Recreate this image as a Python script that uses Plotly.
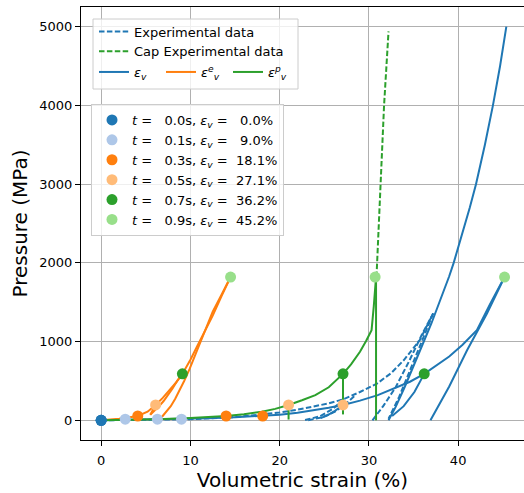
import plotly.graph_objects as go

# ---------------- data (volumetric strain in %, pressure in MPa) ----------------
times = [0.0, 0.1, 0.3, 0.5, 0.7, 0.9]
p_t = [0, 15, 55, 195, 590, 1820]
ev_t = [0.0, 9.0, 18.1, 27.1, 36.2, 45.2]     # total
eve_t = [0.0, 2.7, 4.1, 6.1, 9.1, 14.5]       # elastic
evp_t = [0.0, 6.3, 14.0, 21.0, 27.1, 30.7]    # plastic
marker_colors = ["#1f77b4", "#aec7e8", "#ff7f0e", "#ffbb78", "#2ca02c", "#98df8a"]

# experimental data (dashed blue)
exp_load_x = [0, 5, 10, 15, 20, 22, 23.5, 25.5, 27.2, 29.0, 30.9, 32.5, 33.9, 35.7, 37.2]
exp_load_p = [0, 5, 15, 40, 100, 135, 170, 215, 270, 360, 466, 600, 763, 1018, 1357]
exp_unl1_x = [27.2, 26.0, 24.5, 22.7]
exp_unl1_p = [270, 150, 50, 0]
exp_rel1_x = [23.2, 24.8, 26.2, 27.6, 28.5]
exp_rel1_p = [0, 40, 110, 230, 320]
exp_unl2_x = [37.2, 35.9, 34.6, 33.4, 32.2]
exp_unl2_p = [1357, 1000, 640, 300, 20]
exp_rel2_x = [30.4, 31.6, 33.0, 34.5, 35.9, 37.2]
exp_rel2_p = [0, 180, 420, 750, 1080, 1357]

# cap experimental data (dashed green)
cap_x = [30.85, 31.3, 31.7, 32.2]
cap_p = [1820, 3000, 4000, 4940]

# model total strain (solid blue)
ev_load_x = [0, 3, 6, 9, 12, 15, 18.1, 20, 22, 24, 25.5, 27.1, 29, 31, 33, 34.6, 36.2,
             37.5, 39, 40.5, 42.1, 43.6, 45.2]
ev_load_p = [0, 4, 9, 15, 25, 38, 55, 72, 95, 130, 160, 195, 250, 320, 410, 490, 590,
             690, 810, 960, 1145, 1480, 1820]
ev_unl1_x = [27.1, 26.2, 25.3, 24.6]
ev_unl1_p = [195, 120, 60, 30]
ev_unl2_x = [36.2, 35.1, 33.9, 32.6]
ev_unl2_p = [590, 360, 180, 55]
ev_unl3_x = [45.2, 43.2, 41.0, 39.0, 36.9]
ev_unl3_p = [1820, 1350, 890, 430, 0]
ev_high_x = [32.2, 33.0, 34.0, 35.0, 36.0, 37.0, 38.0, 39.0, 39.5, 40.5, 41.3, 42.0,
             43.0, 43.9, 44.7, 45.4]
ev_high_p = [0, 170, 420, 680, 960, 1230, 1520, 1830, 2000, 2380, 2700, 3000,
             3500, 4000, 4500, 5000]

# model elastic strain (solid orange)
eve_load_x = [0, 1, 2, 3, 4.1, 5.2, 6.1, 6.9, 7.6, 8.4, 9.1, 10.0, 10.8, 11.6, 12.5, 13.5, 14.5]
eve_load_p = [0, 8, 20, 35, 55, 110, 195, 285, 370, 480, 590, 770, 950, 1120, 1330, 1580, 1820]
eve_unl1_x = [6.1, 5.8, 5.5]
eve_unl1_p = [195, 130, 70]
eve_rel1_x = [5.5, 6.0, 6.5, 7.0, 7.5, 8.0, 8.5, 9.1]
eve_rel1_p = [70, 120, 180, 245, 320, 405, 500, 590]
eve_rel2_x = [6.8, 7.3, 7.8, 8.3, 8.8, 9.3, 9.9, 10.5, 11.1, 12.5, 13.5, 14.5]
eve_rel2_p = [42, 105, 180, 275, 380, 500, 650, 820, 1000, 1380, 1600, 1820]

# model plastic strain (solid green)
evp_load_x = [0, 3.0, 6.3, 10.0, 14.0, 16.0, 18.0, 19.5, 21.0, 22.5, 24.0, 25.5, 27.1,
              28.0, 29.0, 29.7, 30.3, 30.55, 30.8]
evp_load_p = [0, 6, 15, 30, 55, 78, 110, 145, 195, 255, 320, 420, 590,
              710, 870, 1010, 1145, 1450, 1820]
evp_unl1_x = [21.0, 21.0]
evp_unl1_p = [195, 10]
evp_unl2_x = [27.1, 27.1]
evp_unl2_p = [590, 75]
evp_unl3_x = [30.8, 30.8]
evp_unl3_p = [1820, 0]


def join(*segs):
    xs, ys = [], []
    for sx, sy in segs:
        xs += list(sx) + [None]
        ys += list(sy) + [None]
    return xs, ys


FONT = "DejaVu Sans"
BLUE, ORANGE, GREEN = "#1f77b4", "#ff7f0e", "#2ca02c"
DASH = "5.5px,2.4px"

fig = go.Figure()

x, y = join((exp_load_x, exp_load_p), (exp_unl1_x, exp_unl1_p), (exp_rel1_x, exp_rel1_p),
            (exp_unl2_x, exp_unl2_p), (exp_rel2_x, exp_rel2_p))
fig.add_trace(go.Scatter(x=x, y=y, mode="lines", name="Experimental data",
                         line=dict(color=BLUE, width=2, dash=DASH), legend="legend"))
x, y = join((cap_x, cap_p))
fig.add_trace(go.Scatter(x=x, y=y, mode="lines", name="Cap Experimental data",
                         line=dict(color=GREEN, width=2, dash=DASH), legend="legend"))

x, y = join((ev_load_x, ev_load_p), (ev_unl1_x, ev_unl1_p), (ev_unl2_x, ev_unl2_p),
            (ev_unl3_x, ev_unl3_p), (ev_high_x, ev_high_p))
fig.add_trace(go.Scatter(x=x, y=y, mode="lines", name="<i>ε<sub>v</sub></i>",
                         line=dict(color=BLUE, width=2), legend="legend3"))
x, y = join((eve_load_x, eve_load_p), (eve_unl1_x, eve_unl1_p), (eve_rel1_x, eve_rel1_p),
            (eve_rel2_x, eve_rel2_p))
fig.add_trace(go.Scatter(x=x, y=y, mode="lines", name="<i>ε<sup>e</sup><sub>v</sub></i>",
                         line=dict(color=ORANGE, width=2), legend="legend3"))
x, y = join((evp_load_x, evp_load_p), (evp_unl1_x, evp_unl1_p), (evp_unl2_x, evp_unl2_p),
            (evp_unl3_x, evp_unl3_p))
fig.add_trace(go.Scatter(x=x, y=y, mode="lines", name="<i>ε<sup>p</sup><sub>v</sub></i>",
                         line=dict(color=GREEN, width=2), legend="legend3"))

NB = "\u00a0"
for i, t in enumerate(times):
    lab = ("<i>t</i> =" + NB * 3 + f"{t:.1f}s, <i>ε<sub>v</sub></i> ="
           + NB * (3 if ev_t[i] < 10 else 2) + f"{ev_t[i]:.1f}%")
    fig.add_trace(go.Scatter(x=[eve_t[i], evp_t[i], ev_t[i]], y=[p_t[i]] * 3, mode="markers",
                             name=lab, marker=dict(color=marker_colors[i], size=11),
                             legend="legend2"))

L, R, T, B = 81, 0, 7, 53
W, H = 524, 493
pw, ph = W - L - R, H - T - B


def px_x(px):
    return (px - L) / pw


def px_y(py):
    return (H - B - py) / ph


leg_common = dict(font=dict(family=FONT, size=13, color="black"), xanchor="left", yanchor="top",
                  tracegroupgap=0)

fig.update_layout(
    width=W, height=H, margin=dict(l=L, r=R, t=T, b=B),
    paper_bgcolor="white", plot_bgcolor="white",
    font=dict(family=FONT, size=13, color="black"),
    showlegend=True,
    legend=dict(x=px_x(94), y=px_y(16.5), bgcolor="rgba(0,0,0,0)", borderwidth=0,
                orientation="v", **leg_common),
    legend3=dict(x=px_x(94), y=px_y(57), bgcolor="rgba(0,0,0,0)", borderwidth=0,
                 orientation="h", entrywidth=22, **leg_common),
    legend2=dict(x=px_x(91), y=px_y(104), bgcolor="rgba(255,255,255,0.8)",
                 bordercolor="#cccccc", borderwidth=1, orientation="v", **leg_common),
    shapes=[dict(type="rect", xref="paper", yref="paper", layer="above",
                 x0=px_x(93), x1=px_x(298), y0=px_y(89), y1=px_y(19),
                 fillcolor="rgba(255,255,255,0.8)", line=dict(color="#cccccc", width=1))],
    xaxis=dict(range=[-2.26, 47.38], tickvals=[0, 10, 20, 30, 40], showgrid=True,
               gridcolor="#b0b0b0", gridwidth=0.8, zeroline=False, showline=True,
               linecolor="black", linewidth=1, mirror=True, ticks="outside", ticklen=5,
               tickcolor="black", tickwidth=0.8, tickfont=dict(size=13), ticklabelstandoff=3,
               title=dict(text="Volumetric strain (%)", font=dict(size=20), standoff=0)),
    yaxis=dict(range=[-250, 5250], tickvals=[0, 1000, 2000, 3000, 4000, 5000], showgrid=True,
               gridcolor="#b0b0b0", gridwidth=0.8, zeroline=False, showline=True,
               linecolor="black", linewidth=1, mirror=True, ticks="outside", ticklen=5,
               tickcolor="black", tickwidth=0.8, tickfont=dict(size=13),
               title=dict(text="Pressure (MPa)", font=dict(size=20), standoff=6)),
)

fig.write_html("out.html")
